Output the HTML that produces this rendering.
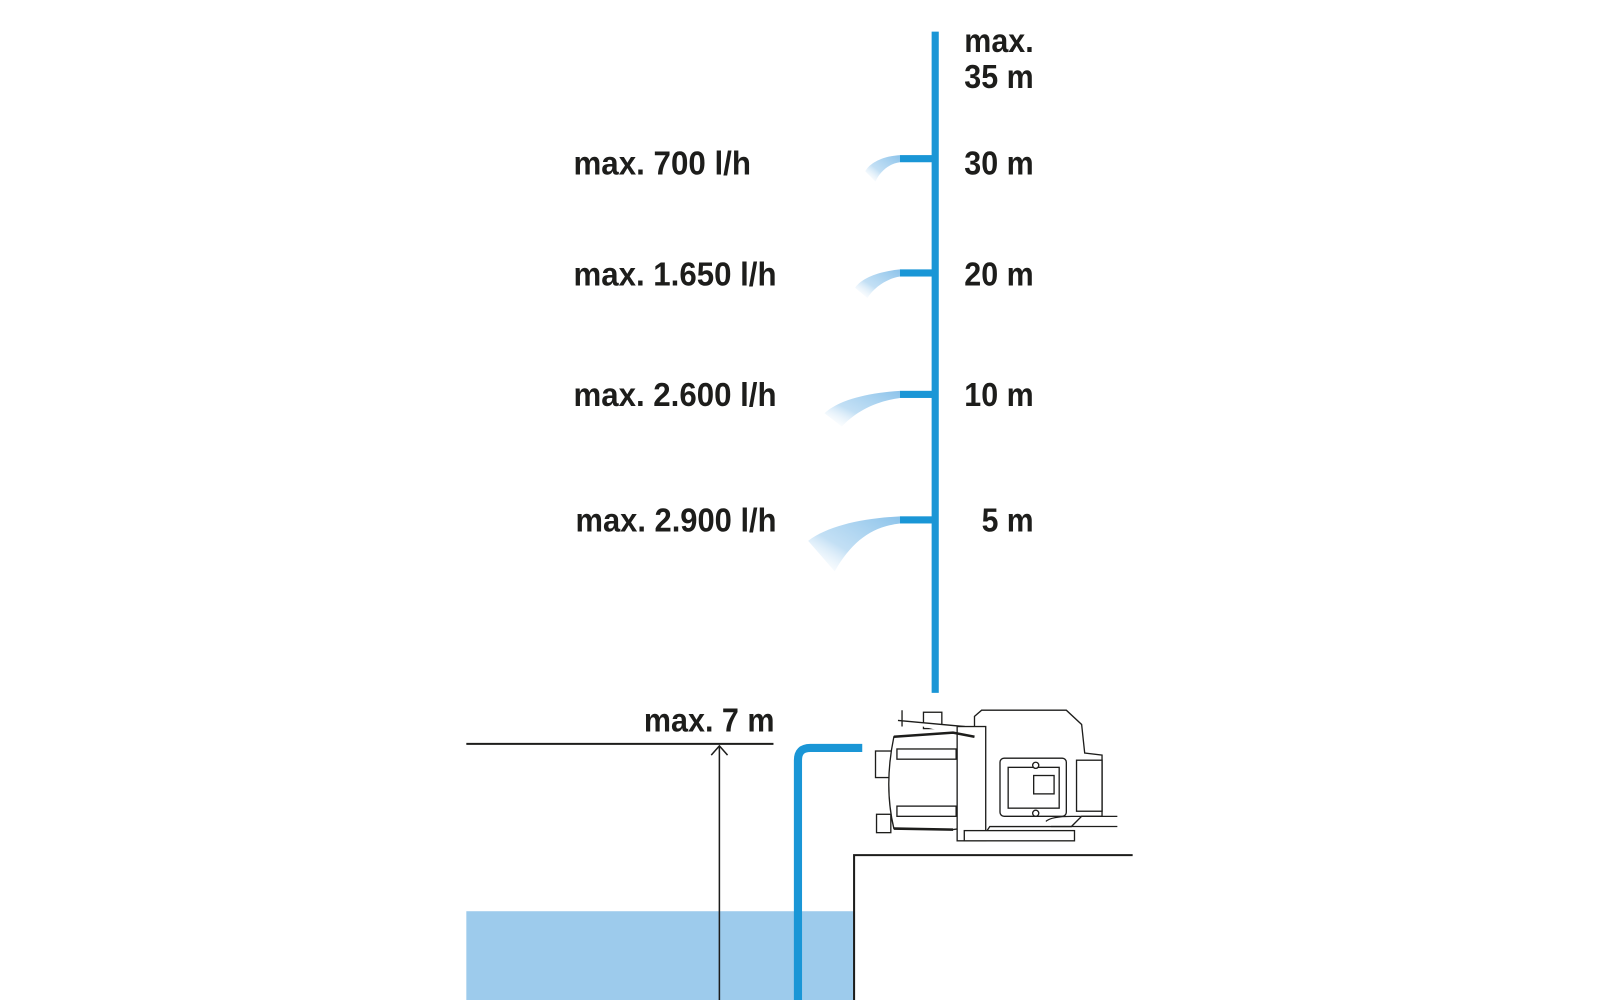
<!DOCTYPE html>
<html><head><meta charset="utf-8"><style>
html,body{margin:0;padding:0;background:#fff;}
svg{display:block}
text{font-family:"Liberation Sans",sans-serif;font-weight:bold;fill:#1d1d1b;font-size:33px}
</style></head><body>
<svg width="1600" height="1000" viewBox="0 0 1568 980" xmlns="http://www.w3.org/2000/svg">
<defs>
<linearGradient id="sp" x1="1" y1="0" x2="0" y2="1">
<stop offset="0" stop-color="#8cc3ea"/><stop offset="0.6" stop-color="#a9d2f0" stop-opacity="0.7"/><stop offset="1" stop-color="#fff" stop-opacity="0"/>
</linearGradient>
</defs>
<rect x="913" y="31" width="7" height="648" fill="#1a96d6"/>
<rect x="882" y="152" width="32" height="7" fill="#1a96d6"/>
<rect x="882" y="264" width="32" height="7" fill="#1a96d6"/>
<rect x="882" y="383" width="32" height="7" fill="#1a96d6"/>
<rect x="882" y="506" width="32" height="7" fill="#1a96d6"/>
<path d="M882,152 C865,153 852,160 848,168 L858,178 C862,168 872,160 882,159 Z" fill="url(#sp)"/>
<path d="M882,264 C862,266 845,272 838,282 L850,292 C858,280 870,273 882,271 Z" fill="url(#sp)"/>
<path d="M882,383 C850,385 822,392 808,405 L825,418 C840,402 860,393 882,390 Z" fill="url(#sp)"/>
<path d="M882,506 C845,508 812,515 792,530 L818,560 C835,530 855,516 882,513 Z" fill="url(#sp)"/>
<text x="945" y="51" textLength="68" lengthAdjust="spacingAndGlyphs">max.</text>
<text x="945" y="86" textLength="68" lengthAdjust="spacingAndGlyphs">35 m</text>
<text x="945" y="171" textLength="68" lengthAdjust="spacingAndGlyphs">30 m</text>
<text x="945" y="280" textLength="68" lengthAdjust="spacingAndGlyphs">20 m</text>
<text x="945" y="398" textLength="68" lengthAdjust="spacingAndGlyphs">10 m</text>
<text x="962" y="521" textLength="51" lengthAdjust="spacingAndGlyphs">5 m</text>
<text x="562" y="171" textLength="174" lengthAdjust="spacingAndGlyphs">max. 700 l/h</text>
<text x="562" y="280" textLength="199" lengthAdjust="spacingAndGlyphs">max. 1.650 l/h</text>
<text x="562" y="398" textLength="199" lengthAdjust="spacingAndGlyphs">max. 2.600 l/h</text>
<text x="564" y="521" textLength="197" lengthAdjust="spacingAndGlyphs">max. 2.900 l/h</text>
<text x="631" y="717" textLength="128" lengthAdjust="spacingAndGlyphs">max. 7 m</text>
<rect x="457" y="893" width="380" height="87" fill="#9dcbec"/>
<line x1="457" y1="729" x2="758" y2="729" stroke="#1d1d1b" stroke-width="2"/>
<line x1="705" y1="980" x2="705" y2="731" stroke="#1d1d1b" stroke-width="1.5"/>
<polyline points="697,740 705,731 713,740" fill="none" stroke="#1d1d1b" stroke-width="1.5"/>
<path d="M782,980 L782,745 Q782,733 794,733 L845,733" fill="none" stroke="#1a96d6" stroke-width="8"/>
<polyline points="837,980 837,838 1110,838" fill="none" stroke="#1d1d1b" stroke-width="2"/>
<g fill="#fff" stroke="#1d1d1b" stroke-width="1.3">
<rect x="858" y="736" width="18" height="26"/>
<rect x="859" y="798" width="14" height="18"/>
<rect x="905" y="698" width="18" height="16"/>
<path d="M884,696 L884,712 M880,706 L945,712 L945,722"/>
<path d="M876,722 L934,718 L955,722 L955,810 L934,813 L876,812 Q866,770 876,722 Z"/>
<rect x="879" y="734" width="58" height="10"/>
<rect x="879" y="790" width="58" height="10"/>
<path d="M955,702 L962,696 L1045,696 L1060,710 L1063,738 L1080,740 L1080,800 L1060,800 L1050,810 L970,810 L962,822 L955,822 Z"/>
<rect x="938" y="712" width="28" height="112"/>
<rect x="945" y="814" width="108" height="10"/>
<rect x="980" y="743" width="65" height="57" rx="4"/>
<rect x="988" y="752" width="50" height="40"/>
<rect x="1013" y="760" width="20" height="18"/>
<circle cx="1015" cy="750" r="3"/>
<circle cx="1015" cy="797" r="3"/>
<circle cx="1073" cy="754" r="2.5"/>
<rect x="1055" y="745" width="25" height="50"/>
</g>
<path d="M876,722 L934,718 L955,722 M876,812 L934,813" fill="none" stroke="#1d1d1b" stroke-width="2.5"/>
<path d="M1025,805 Q1030,800 1050,800 L1095,800 M1030,810 L1095,810" fill="none" stroke="#1d1d1b" stroke-width="1.2"/>
</svg>
</body></html>
